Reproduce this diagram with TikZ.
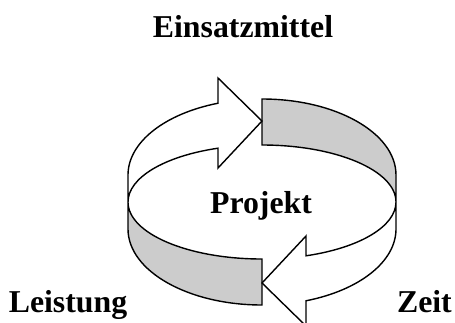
\documentclass[tikz,border=0pt]{standalone}
\usepackage{fontspec}
\setmainfont{Liberation Serif}
\begin{document}
\begin{tikzpicture}[x=1pt,y=-1pt,
  rim/.style={draw=black,line width=1.4pt,line join=miter},
  inside/.style={rim,fill=bandgray},
  outside/.style={rim,fill=white},
  label/.style={inner sep=0pt,anchor=base,font=\fontsize{31.8}{36}\bfseries\selectfont}]
\definecolor{bandgray}{RGB}{204,204,204}
\clip (0,0) rectangle (455,322);
% ring: upper rim ellipse centred (262,175), middle (262,202), lower (262,229)
% back half, inner face (grey)
\path[inside] (262,99) arc[start angle=-90,end angle=0,x radius=134,y radius=76]
  -- (396,202) arc[start angle=0,end angle=-90,x radius=134,y radius=57] -- cycle;
% front half, inner face (grey)
\path[inside] (262,305) arc[start angle=90,end angle=180,x radius=134,y radius=76]
  -- (128,202) arc[start angle=180,end angle=90,x radius=134,y radius=57] -- cycle;
% arrow up and to the right
\path[outside] (128,175) arc[start angle=180,end angle=250.83,x radius=134,y radius=76]
  -- (218,78) -- (262,121) -- (218,168) -- (218,148.2)
  arc[start angle=250.83,end angle=180,x radius=134,y radius=57] -- cycle;
% arrow down and to the left
\path[outside] (396,229) arc[start angle=0,end angle=70.83,x radius=134,y radius=76]
  -- (306,326) -- (262,283) -- (306,236) -- (306,255.8)
  arc[start angle=70.83,end angle=0,x radius=134,y radius=57] -- cycle;
% labels
\node[label] (einsatz) at (243,37) {Einsatzmittel};
\node[label] (projekt) at (261,213) {Projekt};
\node[label] (leistung) at (68,312) {Leistung};
\node[label,anchor=base east] (zeit) at (452,312) {Zeit};
\end{tikzpicture}
\end{document}
